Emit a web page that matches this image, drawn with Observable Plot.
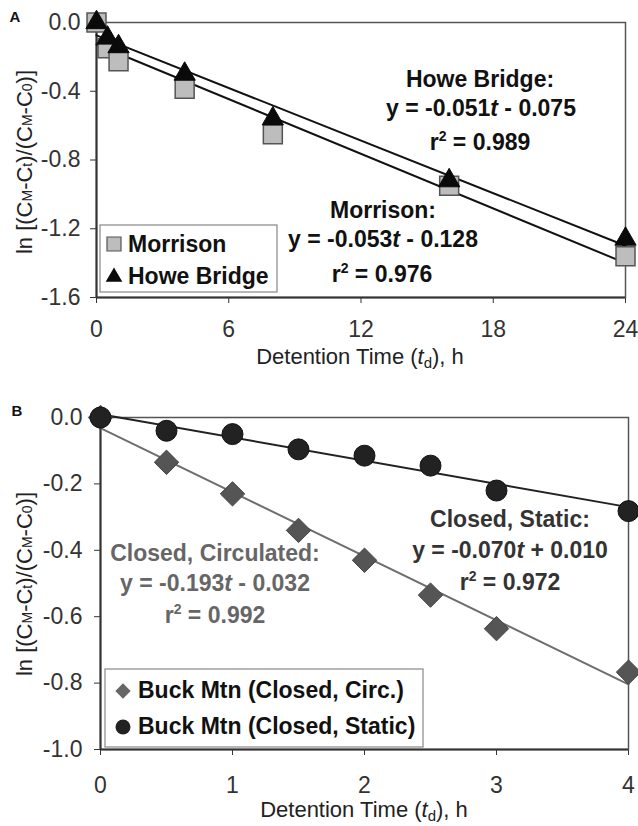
<!DOCTYPE html>
<html><head><meta charset="utf-8">
<script src="https://cdn.jsdelivr.net/npm/d3@7"></script>
<script src="https://cdn.jsdelivr.net/npm/@observablehq/plot@0.6"></script>
<style>
body{margin:0;background:#fff;}
#wrap{position:relative;width:638px;height:826px;}
#wrap svg{display:block;overflow:visible}
</style></head><body><div id="wrap"></div>
<script>
// ---------- Panel A data ----------
const timesA = [0, 0.5, 1, 4, 8, 16, 24];
const morrisonA = [0, -0.15, -0.225, -0.385, -0.65, -0.95, -1.36];
const howeA = [0, -0.09, -0.14, -0.30, -0.56, -0.92, -1.26];
const fitTA = [0, 24];
const morrisonFit = [-0.128, -1.400];
const howeFit = [-0.075, -1.299];
const xTicksA = [0, 6, 12, 18, 24];
const yTicksA = [0, -0.4, -0.8, -1.2, -1.6];

// ---------- Panel B data ----------
const timesB = [0, 0.5, 1, 1.5, 2, 2.5, 3, 4];
const circB = [0, -0.135, -0.23, -0.34, -0.43, -0.535, -0.636, -0.767];
const staticB = [0, -0.04, -0.05, -0.096, -0.115, -0.145, -0.22, -0.282];
const fitTB = [0, 4];
const circFit = [-0.032, -0.804];
const staticFit = [0.010, -0.270];
const xTicksB = [0, 1, 2, 3, 4];
const yTicksB = [0, -0.2, -0.4, -0.6, -0.8, -1.0];

const FONT = '"Liberation Sans", Arial, Helvetica, sans-serif';
const fmt = d => d3.format(".1f")(d).replace("\u2212", "-");
const rows = (ts, ys) => ts.map((t, i) => ({t, y: ys[i]}));

const wrap = document.getElementById("wrap");

function addText(svg, x, y, parts, opts = {}) {
  const t = d3.select(svg).append("text")
    .attr("x", x).attr("y", y)
    .attr("text-anchor", opts.anchor || "middle")
    .attr("font-family", FONT)
    .attr("font-size", opts.size || 23)
    .attr("font-weight", opts.weight || "normal")
    .attr("fill", opts.fill || "#111");
  if (opts.rotate) t.attr("transform", `rotate(-90,${x},${y})`);
  for (const p of parts) {
    if (typeof p === "string") { t.append("tspan").text(p); continue; }
    const s = t.append("tspan").text(p.text);
    if (p.italic) s.attr("font-style", "italic");
    if (p.size) s.attr("font-size", p.size);
    if (p.dy) s.attr("dy", p.dy);
  }
  return t;
}

const yLabelParts = ["ln [(C", {text: "M", size: 14}, {text: "-C", size: 22}, {text: "t", size: 14}, {text: ")/(C", size: 22}, {text: "M", size: 14}, {text: "-C", size: 22}, {text: "0", size: 14}, {text: ")]", size: 22}];
const xLabelParts = ["Detention Time (", {text: "t", italic: true}, {text: "d", size: 15, dy: 4}, {text: "), h", dy: -4}];

// ---------- Panel A ----------
const plotA = Plot.plot({
  width: 638, height: 400,
  marginTop: 22, marginBottom: 103, marginLeft: 96, marginRight: 13,
  style: {fontFamily: FONT, fontSize: "23px", color: "#333", background: "white", overflow: "visible"},
  x: {domain: [0, 24], ticks: xTicksA, tickFormat: d => String(d), tickSize: 6, tickPadding: 17, label: null},
  y: {domain: [-1.6, 0], ticks: yTicksA, tickFormat: fmt, tickSize: 6, tickPadding: 10, label: null},
  marks: [
    Plot.frame({stroke: "#555", strokeWidth: 1.5}),
    Plot.ruleX([0], {stroke: "#333", strokeWidth: 2}),
    Plot.ruleY([-1.6], {stroke: "#333", strokeWidth: 2}),
    Plot.line(rows(fitTA, morrisonFit), {x: "t", y: "y", stroke: "#111", strokeWidth: 2}),
    Plot.line(rows(fitTA, howeFit), {x: "t", y: "y", stroke: "#111", strokeWidth: 2}),
    Plot.dot(rows(timesA, morrisonA), {x: "t", y: "y", symbol: "square", r: 10.7, fill: "#bdbdbd", stroke: "#555", strokeWidth: 1.5}),
    Plot.dot(rows(timesA, howeA), {x: "t", y: "y", symbol: "triangle", r: 7.9, fill: "#0a0a0a", stroke: "#0a0a0a", strokeWidth: 1})
  ]
});
wrap.appendChild(plotA);

addText(plotA, 15, 22, ["A"], {size: 15, weight: "bold"});
addText(plotA, 32, 162, yLabelParts, {rotate: true, fill: "#222", size: 22});
addText(plotA, 360, 364, xLabelParts, {fill: "#222", size: 22});

addText(plotA, 480, 87, ["Howe Bridge:"], {weight: "bold"});
addText(plotA, 481, 116, ["y = -0.051", {text: "t", italic: true}, " - 0.075"], {weight: "bold"});
addText(plotA, 480, 150, ["r", {text: "2", size: 14, dy: -9}, {text: " = 0.989", dy: 9}], {weight: "bold"});
addText(plotA, 383, 218, ["Morrison:"], {weight: "bold"});
addText(plotA, 383, 247, ["y = -0.053", {text: "t", italic: true}, " - 0.128"], {weight: "bold"});
addText(plotA, 382, 282, ["r", {text: "2", size: 14, dy: -9}, {text: " = 0.976", dy: 9}], {weight: "bold"});

// Legend A
{
  const g = d3.select(plotA).append("g");
  g.append("rect").attr("x", 100).attr("y", 225).attr("width", 177).attr("height", 67)
    .attr("fill", "white").attr("stroke", "#888").attr("stroke-width", 1.2);
  g.append("path").attr("d", d3.symbol(d3.symbolSquare, 196)()).attr("transform", "translate(114,244)")
    .attr("fill", "#bdbdbd").attr("stroke", "#555").attr("stroke-width", 1.2);
  g.append("path").attr("d", d3.symbol(d3.symbolTriangle, 120)()).attr("transform", "translate(114,277)")
    .attr("fill", "#0a0a0a");
  addText(plotA, 128, 252, ["Morrison"], {anchor: "start", weight: "bold"});
  addText(plotA, 128, 284, ["Howe Bridge"], {anchor: "start", weight: "bold"});
}

// ---------- Panel B ----------
const plotB = Plot.plot({
  width: 638, height: 426,
  marginTop: 17, marginBottom: 77, marginLeft: 100, marginRight: 10,
  style: {fontFamily: FONT, fontSize: "23px", color: "#333", background: "white", overflow: "visible"},
  x: {domain: [0, 4], ticks: xTicksB, tickFormat: d => String(d), tickSize: 6, tickPadding: 21, label: null},
  y: {domain: [-1.0, 0], ticks: yTicksB, tickFormat: fmt, tickSize: 6, tickPadding: 12, label: null},
  marks: [
    Plot.frame({stroke: "#555", strokeWidth: 1.5}),
    Plot.ruleX([0], {stroke: "#333", strokeWidth: 2}),
    Plot.ruleY([-1.0], {stroke: "#333", strokeWidth: 2}),
    Plot.line(rows(fitTB, circFit), {x: "t", y: "y", stroke: "#6e6e6e", strokeWidth: 2}),
    Plot.line(rows(fitTB, staticFit), {x: "t", y: "y", stroke: "#222", strokeWidth: 2}),
    Plot.dot(rows(timesB, circB), {x: "t", y: "y", symbol: "diamond2", r: 11, fill: "#555", stroke: "#444", strokeWidth: 1}),
    Plot.dot(rows(timesB, staticB), {x: "t", y: "y", symbol: "circle", r: 10.5, fill: "#222", stroke: "#111", strokeWidth: 1})
  ]
});
wrap.appendChild(plotB);

addText(plotB, 17, 16, ["B"], {size: 15, weight: "bold"});
addText(plotB, 32, 184, yLabelParts, {rotate: true, fill: "#222", size: 22});
addText(plotB, 364, 417, xLabelParts, {fill: "#222", size: 22});

addText(plotB, 215, 161, ["Closed, Circulated:"], {weight: "bold", fill: "#666"});
addText(plotB, 215, 191, ["y = -0.193", {text: "t", italic: true}, " - 0.032"], {weight: "bold", fill: "#666"});
addText(plotB, 215, 223, ["r", {text: "2", size: 14, dy: -9}, {text: " = 0.992", dy: 9}], {weight: "bold", fill: "#666"});
addText(plotB, 510, 127, ["Closed, Static:"], {weight: "bold", fill: "#333"});
addText(plotB, 510, 158, ["y = -0.070", {text: "t", italic: true}, " + 0.010"], {weight: "bold", fill: "#333"});
addText(plotB, 510, 190, ["r", {text: "2", size: 14, dy: -9}, {text: " = 0.972", dy: 9}], {weight: "bold", fill: "#333"});

// Legend B
{
  const g = d3.select(plotB).append("g");
  g.append("rect").attr("x", 105).attr("y", 269).attr("width", 318).attr("height", 78)
    .attr("fill", "white").attr("stroke", "#888").attr("stroke-width", 1.2);
  g.append("path").attr("d", d3.symbol(d3.symbolDiamond2, 150)()).attr("transform", "translate(123,291)")
    .attr("fill", "#666");
  g.append("circle").attr("cx", 123).attr("cy", 327).attr("r", 7.5).attr("fill", "#222");
  addText(plotB, 138, 298, ["Buck Mtn (Closed, Circ.)"], {anchor: "start", weight: "bold"});
  addText(plotB, 138, 334, ["Buck Mtn (Closed, Static)"], {anchor: "start", weight: "bold"});
}
</script></body></html>
